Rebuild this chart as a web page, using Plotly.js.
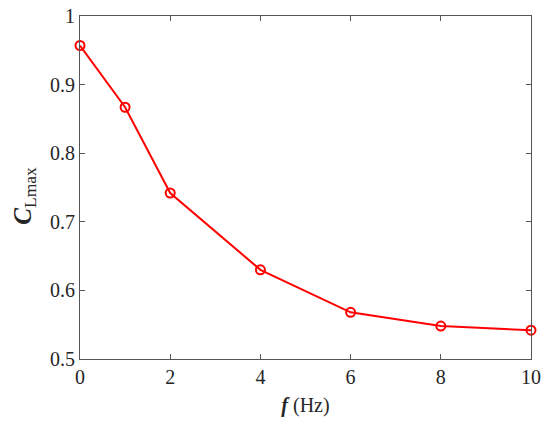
<!DOCTYPE html>
<html>
<head>
<meta charset="utf-8">
<script src="https://cdn.plot.ly/plotly-3.0.1.min.js"></script>
<style>html,body{margin:0;padding:0;background:#fff;}#chart{width:550px;height:429px;}</style>
</head>
<body>
<div id="chart"></div>
<script>
var freqHz = [0, 1, 2, 4, 6, 8, 10];
var clMax = [0.957, 0.867, 0.742, 0.630, 0.568, 0.548, 0.542];
var xTickVals = [0, 2, 4, 6, 8, 10];
var xTickText = ['0', '2', '4', '6', '8', '10'];
var yTickVals = [0.5, 0.6, 0.7, 0.8, 0.9, 1.0];
var yTickText = ['0.5', '0.6', '0.7', '0.8', '0.9', '1'];

var FONT = '"Times New Roman", "Liberation Serif", serif';

var trace = {
  x: freqHz,
  y: clMax,
  mode: 'lines+markers',
  type: 'scatter',
  line: {color: '#ff0000', width: 2},
  marker: {symbol: 'circle-open', size: 9, color: '#ff0000', line: {width: 2, color: '#ff0000'}},
  cliponaxis: false
};

var axisCommon = {
  showgrid: false,
  zeroline: false,
  showline: true,
  linecolor: '#555555',
  linewidth: 1,
  ticks: 'inside',
  ticklen: 5,
  tickwidth: 1,
  tickcolor: '#555555',
  mirror: 'ticks',
  tickfont: {family: FONT, size: 20, color: '#262626'}
};

var layout = {
  width: 550,
  height: 429,
  margin: {l: 80, r: 19, t: 16, b: 70},
  paper_bgcolor: '#ffffff',
  plot_bgcolor: '#ffffff',
  font: {family: FONT},
  showlegend: false,
  xaxis: Object.assign({}, axisCommon, {
    range: [0, 10],
    tickmode: 'array',
    tickvals: xTickVals,
    ticktext: xTickText,
    title: {text: '<b><i>f</i></b> (Hz)', font: {family: FONT, size: 20, color: '#262626'}, standoff: 10}
  }),
  yaxis: Object.assign({}, axisCommon, {
    range: [0.5, 1],
    tickmode: 'array',
    tickvals: yTickVals,
    ticktext: yTickText
  }),
  annotations: [{
    text: '<b><i>C</i></b><sub>Lmax</sub>',
    textangle: -90,
    xref: 'paper', yref: 'paper',
    x: -0.125, y: 0.475,
    xanchor: 'center', yanchor: 'middle',
    showarrow: false,
    font: {family: FONT, size: 25, color: '#262626'}
  }]
};

Plotly.newPlot('chart', [trace], layout, {staticPlot: true, displayModeBar: false});
</script>
</body>
</html>
